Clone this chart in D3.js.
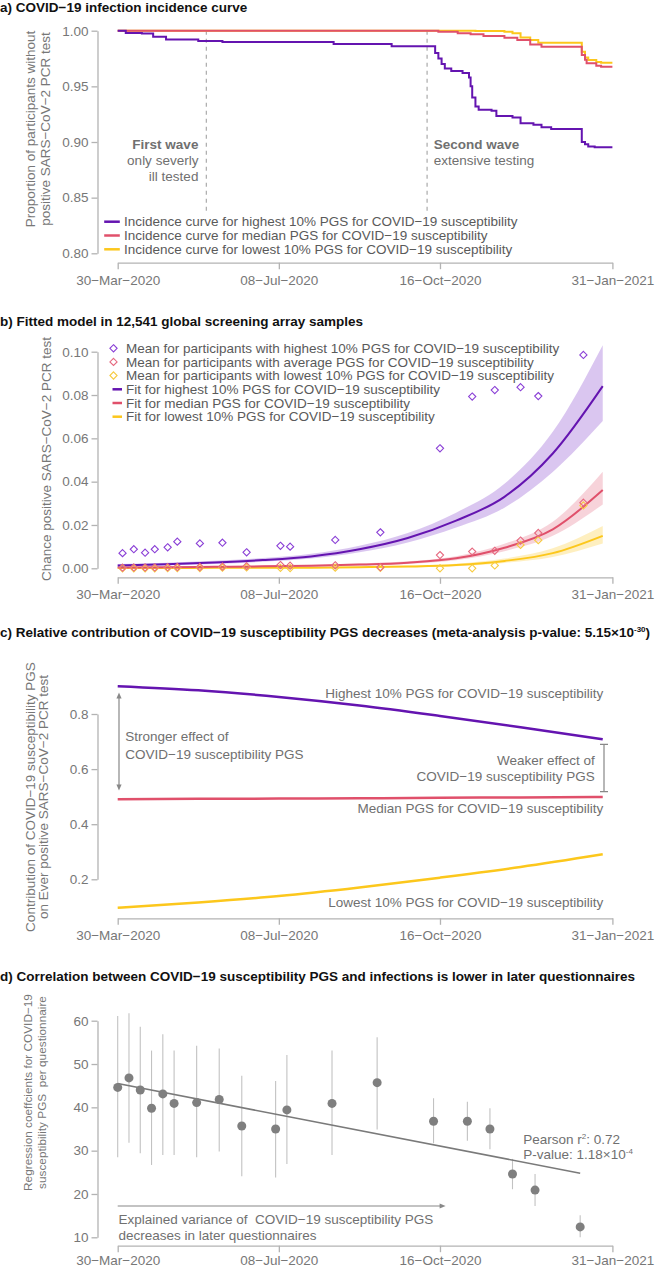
<!DOCTYPE html>
<html><head><meta charset="utf-8">
<script src="https://cdn.jsdelivr.net/npm/d3@7"></script>
<style>body{margin:0;background:#fff} svg{display:block}</style>
</head><body><svg id="c" width="659" height="1269"></svg>
<script>
// ---------- shared x axis ----------
const startDate = "2020-03-30";
const endDate = "2021-01-31";
const xTickDates = ["2020-03-30","2020-07-08","2020-10-16","2021-01-31"];
const xTickLabels = ["30−Mar−2020","08−Jul−2020","16−Oct−2020","31−Jan−2021"];

// ---------- panel a: incidence curves (days since 30-Mar-2020) ----------
const aHighDays = [0,5,15,22,30,50,65,134,170,197,199,201,203,207,214,218,219,220,222,224,232,235,245,250,258,263,269,288,290,292,296,307];
const aHighVals = [1.000,0.998,0.9975,0.9946,0.9922,0.9907,0.9899,0.988,0.986,0.980,0.975,0.970,0.966,0.9638,0.962,0.958,0.950,0.940,0.9318,0.929,0.928,0.9234,0.922,0.9168,0.9155,0.9132,0.9117,0.900,0.898,0.896,0.8953,0.8953];
const aMedDays = [0,199,211,219,227,240,248,256,263,288,290,291,297,300,307];
const aMedVals = [1.000,0.9991,0.9976,0.9967,0.9952,0.9937,0.9916,0.9877,0.9856,0.9782,0.9740,0.9707,0.9686,0.9677,0.9677];
const aLowDays = [0,222,240,245,250,256,261,288,290,292,297,300,307];
const aLowVals = [1.000,0.9997,0.9991,0.9976,0.994,0.9916,0.9892,0.9811,0.976,0.9737,0.9719,0.9713,0.9713];
const aWaveDays = [55,192];
const aYTicks = [0.80,0.85,0.90,0.95,1.00];
const aYLabels = ["0.80","0.85","0.90","0.95","1.00"];
const aLegend = ["Incidence curve for highest 10% PGS for COVID−19 susceptibility",
                 "Incidence curve for median PGS for COVID−19 susceptibility",
                 "Incidence curve for lowest 10% PGS for COVID−19 susceptibility"];

// ---------- panel b: means and fits ----------
const bDays = [3,10,17,23,31,37,51,65,80,101,107,135,163,200,220,234,250,261,289];
const bHigh = [0.0070,0.0088,0.0072,0.0088,0.0097,0.0123,0.0115,0.0118,0.0074,0.0104,0.0100,0.0131,0.0166,0.0554,0.0793,0.0823,0.0836,0.0795,0.0985];
const bMed  = [0.0003,0.0004,0.0004,0.0004,0.0005,0.0006,0.0006,0.0008,0.0010,0.0015,0.0012,0.0014,0.0005,0.0061,0.0077,0.0081,0.0128,0.0163,0.0303];
const bLow  = [0.0000,0.0000,0.0000,0.0000,0.0001,0.0001,0.0001,0.0003,0.0004,0.0002,0.0001,0.0003,0.0002,0.0000,0.0000,0.0013,0.0108,0.0130,0.0290];
const fitDays = [0,30,60,90,120,150,180,210,240,270,301];
const fitHigh   = [0.0013,0.0019,0.0027,0.0038,0.0055,0.0088,0.0140,0.0220,0.0330,0.0530,0.0841];
const fitHighLo = [0.0008,0.0013,0.0020,0.0030,0.0045,0.0074,0.0119,0.0188,0.0280,0.0445,0.0680];
const fitHighHi = [0.0020,0.0026,0.0035,0.0047,0.0067,0.0104,0.0163,0.0257,0.0390,0.0630,0.1030];
const fitMed    = [0.0004,0.0005,0.0007,0.0009,0.0012,0.0017,0.0026,0.0046,0.0095,0.0180,0.0361];
const fitMedLo  = [0.0002,0.0003,0.0004,0.0006,0.0008,0.0012,0.0020,0.0037,0.0079,0.0150,0.0295];
const fitMedHi  = [0.0007,0.0008,0.0010,0.0012,0.0016,0.0022,0.0032,0.0056,0.0113,0.0215,0.0446];
const fitLow    = [0.0001,0.0001,0.0002,0.0002,0.0003,0.0005,0.0008,0.0015,0.0034,0.0070,0.0150];
const fitLowLo  = [0.00005,0.00006,0.0001,0.0001,0.0002,0.0003,0.0005,0.0010,0.0025,0.0052,0.0115];
const fitLowHi  = [0.0002,0.0002,0.0003,0.0004,0.0005,0.0008,0.0012,0.0021,0.0045,0.0092,0.0195];
const bYTicks = [0,0.02,0.04,0.06,0.08,0.10];
const bYLabels = ["0.00","0.02","0.04","0.06","0.08","0.10"];
const bLegend = ["Mean for participants with highest 10% PGS for COVID−19 susceptibility",
                 "Mean for participants with average PGS for COVID−19 susceptibility",
                 "Mean for participants with lowest 10% PGS for COVID−19 susceptibility",
                 "Fit for highest 10% PGS for COVID−19 susceptibility",
                 "Fit for median PGS for COVID−19 susceptibility",
                 "Fit for lowest 10% PGS for COVID−19 susceptibility"];

// ---------- panel c: relative contribution ----------
const cDays = [0,50,100,150,200,250,301];
const cHigh = [0.901,0.886,0.862,0.831,0.793,0.752,0.708];
const cMed  = [0.491,0.492,0.493,0.494,0.496,0.497,0.499];
const cLow  = [0.097,0.116,0.139,0.170,0.206,0.245,0.291];
const cYTicks = [0.2,0.4,0.6,0.8];
const cYLabels = ["0.2","0.4","0.6","0.8"];

// ---------- panel d: regression coefficients per questionnaire ----------
const dDays = [0,7,14,21,28,35,49,63,77,98,105,133,161,196,217,231,245,259,287];
const dCoef = [44.6,46.8,44.0,39.8,43.1,40.9,41.1,41.8,35.7,35.0,39.4,40.9,45.7,36.8,36.8,35.0,24.6,20.9,12.4];
const dLo   = [28.5,31.8,29.4,26.7,29.0,29.0,28.5,29.8,24.1,23.8,26.9,29.0,34.9,31.7,32.3,30.3,21.1,17.2,10.0];
const dHi   = [61.1,61.7,58.6,53.1,56.9,53.1,54.2,53.6,47.3,46.1,52.1,53.1,56.2,42.1,41.3,39.8,28.1,24.6,15.1];
const regDays = [0,287];
const regVals = [45.5,24.8];
const dYTicks = [10,20,30,40,50,60];
const dYLabels = ["10","20","30","40","50","60"];

// ---------- drawing ----------
const FONT = '"Liberation Sans", Arial, Helvetica, sans-serif';
const colHigh = "#6414b0", colMed = "#e0506b", colLow = "#fcc71c";
const ptHigh = "#8a3fd6", ptMed = "#e66a80", ptLow = "#f7cb40";
const axisCol = "#b3b3b3", tickTextCol = "#777", annCol = "#707070";
const svg = d3.select("#c");
const parse = d3.utcParse("%Y-%m-%d");
const t0 = parse(startDate), t1 = parse(endDate);
const day = d => d3.utcDay.offset(t0, d);
const x = d3.scaleUtc().domain([t0, t1]).range([117.7, 612.4]);

function styleAxis(g){
  g.select(".domain").attr("stroke", axisCol).attr("stroke-width", 1.3);
  g.selectAll(".tick line").attr("stroke", axisCol).attr("stroke-width", 1.3);
  g.selectAll(".tick text").attr("fill", tickTextCol).style("font-size", "13.5px").style("font-family", FONT);
}
function xAxis(yPos, pad){
  const g = svg.append("g").attr("transform", `translate(0,${yPos})`)
    .call(d3.axisBottom(x).tickValues(xTickDates.map(parse)).tickFormat((d,i)=>xTickLabels[i])
      .tickSize(6.5).tickPadding(pad === undefined ? 6 : pad).tickSizeOuter(0));
  styleAxis(g);
}
function yAxis(scale, ticks, labels){
  const g = svg.append("g").attr("transform", "translate(97.5,0)")
    .call(d3.axisLeft(scale).tickValues(ticks).tickFormat((d,i)=>labels[i])
      .tickSize(6).tickPadding(3).tickSizeOuter(0));
  styleAxis(g);
}
function txt(xp, yp, s, opt={}){
  return svg.append("text").attr("x", xp).attr("y", yp).attr("dy", "0.35em")
    .attr("text-anchor", opt.anchor || "start")
    .attr("fill", opt.fill || annCol)
    .style("font-family", FONT).style("font-size", (opt.size || 13.5) + "px")
    .style("font-weight", opt.bold ? "bold" : "normal").text(s);
}
function title(yp, s){
  return svg.append("text").attr("x", 0).attr("y", yp).attr("fill", "#111")
    .style("font-family", FONT).style("font-size", "13.5px").style("font-weight", "bold").text(s);
}
function yLabel(cx, cy, s, size){
  svg.append("text").attr("transform", `translate(${cx},${cy}) rotate(-90)`)
    .attr("text-anchor", "middle").attr("dy", "0.35em").attr("fill", tickTextCol)
    .style("font-family", FONT).style("font-size", (size||13.5) + "px").style("white-space", "pre").text(s);
}
const diamond = r => `M0,${-r}L${r},0L0,${r}L${-r},0Z`;

// ===== Panel a =====
title(12, "a) COVID−19 infection incidence curve");
const yA = d3.scaleLinear().domain([0.8, 1.0]).range([253.3, 30.7]);
yAxis(yA, aYTicks, aYLabels);
xAxis(262.7);
yLabel(30, 129, "Proportion of participants without");
yLabel(45, 129, "positive SARS−CoV−2 PCR test");
aWaveDays.forEach(d => {
  svg.append("line").attr("x1", x(day(d))).attr("x2", x(day(d)))
    .attr("y1", yA(1.0)).attr("y2", yA(0.8355))
    .attr("stroke", "#aaa").attr("stroke-width", 1.2).attr("stroke-dasharray", "4,4");
});
const stepLine = (ys) => d3.line().curve(d3.curveStepAfter).x(d => x(day(d[0]))).y(d => ys(d[1]));
[[aLowDays, aLowVals, colLow], [aMedDays, aMedVals, colMed], [aHighDays, aHighVals, colHigh]].forEach(([ds, vs, c]) => {
  svg.append("path").datum(ds.map((d,i)=>[d, vs[i]])).attr("d", stepLine(yA))
    .attr("fill", "none").attr("stroke", c).attr("stroke-width", 2);
});
txt(198.4, 144, "First wave", {anchor:"end", bold:true});
txt(198.4, 160, "only severly", {anchor:"end"});
txt(198.4, 176.5, "ill tested", {anchor:"end"});
txt(433.8, 144, "Second wave", {bold:true});
txt(433.8, 160, "extensive testing");
[colHigh, colMed, colLow].forEach((c, i) => {
  const yy = 221.7 + i*13.8;
  svg.append("line").attr("x1", 104.2).attr("x2", 119.8).attr("y1", yy).attr("y2", yy).attr("stroke", c).attr("stroke-width", 2.5);
  txt(124, yy, aLegend[i], {fill:"#5a5a5a"});
});

// ===== Panel b =====
title(326, "b) Fitted model in 12,541 global screening array samples");
const yB = d3.scaleLinear().domain([0, 0.10]).range([568.3, 351.7]);
yAxis(yB, bYTicks, bYLabels);
xAxis(577.3);
yLabel(46, 459, "Chance positive SARS−CoV−2 PCR test");
const bandDefs = [[fitLowLo, fitLowHi, colLow, 0.28], [fitMedLo, fitMedHi, colMed, 0.25], [fitHighLo, fitHighHi, "#8c4fd0", 0.32]];
bandDefs.forEach(([lo, hi, c, op]) => {
  const area = d3.area().curve(d3.curveMonotoneX).x((d,i)=>x(day(fitDays[i]))).y0((d,i)=>yB(lo[i])).y1((d,i)=>yB(hi[i]));
  svg.append("path").datum(fitDays).attr("d", area).attr("fill", c).attr("fill-opacity", op);
});
[[fitLow, colLow], [fitMed, colMed], [fitHigh, colHigh]].forEach(([vs, c]) => {
  const line = d3.line().curve(d3.curveMonotoneX).x((d,i)=>x(day(fitDays[i]))).y((d,i)=>yB(vs[i]));
  svg.append("path").datum(vs).attr("d", line).attr("fill", "none").attr("stroke", c).attr("stroke-width", 2);
});
[[bLow, ptLow], [bMed, ptMed], [bHigh, ptHigh]].forEach(([vs, c]) => {
  svg.append("g").selectAll("path").data(vs).join("path")
    .attr("transform", (v,i)=>`translate(${x(day(bDays[i]))},${yB(v)})`)
    .attr("d", diamond(3.6)).attr("fill", "none").attr("stroke", c).attr("stroke-width", 1.1);
});
const bRows = [348.3, 361.9, 375.5, 389.3, 403, 416.7];
[ptHigh, ptMed, ptLow].forEach((c, i) => {
  svg.append("path").attr("transform", `translate(113.5,${bRows[i]})`).attr("d", diamond(3.6))
    .attr("fill", "none").attr("stroke", c).attr("stroke-width", 1.1);
});
[colHigh, colMed, colLow].forEach((c, i) => {
  const yy = bRows[i+3];
  svg.append("line").attr("x1", 112.5).attr("x2", 122).attr("y1", yy).attr("y2", yy).attr("stroke", c).attr("stroke-width", 2.5);
});
bLegend.forEach((s, i) => txt(126, bRows[i], s, {fill:"#5a5a5a"}));

// ===== Panel c =====
const tc = title(637, "c) Relative contribution of COVID−19 susceptibility PGS decreases (meta-analysis p-value: 5.15×10");
tc.append("tspan").attr("dy", -5).style("font-size", "8px").text("-30");
tc.append("tspan").attr("dy", 5).text(")");
const yC = d3.scaleLinear().domain([0.2, 0.8]).range([879.3, 714]);
yAxis(yC, cYTicks, cYLabels);
xAxis(918.3);
yLabel(30, 797, "Contribution of COVID−19 susceptibility PGS");
yLabel(43, 797, "on Ever positive SARS−CoV−2 PCR test");
[[cLow, colLow], [cMed, colMed], [cHigh, colHigh]].forEach(([vs, c]) => {
  const line = d3.line().curve(d3.curveMonotoneX).x((d,i)=>x(day(cDays[i]))).y((d,i)=>yC(vs[i]));
  svg.append("path").datum(vs).attr("d", line).attr("fill", "none").attr("stroke", c).attr("stroke-width", 2.5);
});
txt(603.2, 693.3, "Highest 10% PGS for COVID−19 susceptibility", {anchor:"end"});
txt(603.2, 808.3, "Median PGS for COVID−19 susceptibility", {anchor:"end"});
txt(603.2, 902.7, "Lowest 10% PGS for COVID−19 susceptibility", {anchor:"end"});
txt(125.3, 736.7, "Stronger effect of");
txt(125.3, 754, "COVID−19 susceptibility PGS");
txt(594.8, 760, "Weaker effect of", {anchor:"end"});
txt(594.8, 776.5, "COVID−19 susceptibility PGS", {anchor:"end"});
// double arrow
const arrX = 119, arrTop = 692.5, arrBot = 790.5;
svg.append("line").attr("x1", arrX).attr("x2", arrX).attr("y1", arrTop + 4).attr("y2", arrBot - 4).attr("stroke", "#888").attr("stroke-width", 1.2);
svg.append("path").attr("d", `M${arrX},${arrTop}L${arrX-2.6},${arrTop+6}L${arrX+2.6},${arrTop+6}Z`).attr("fill", "#888");
svg.append("path").attr("d", `M${arrX},${arrBot}L${arrX-2.6},${arrBot-6}L${arrX+2.6},${arrBot-6}Z`).attr("fill", "#888");
// bracket
const brX = 604, brTop = 744.3, brBot = 791.7;
svg.append("path").attr("d", `M${brX-4},${brTop}H${brX+4}M${brX},${brTop}V${brBot}M${brX-4},${brBot}H${brX+4}`)
  .attr("fill", "none").attr("stroke", "#888").attr("stroke-width", 1.2);

// ===== Panel d =====
title(981, "d) Correlation between COVID−19 susceptibility PGS and infections is lower in later questionnaires");
const yD = d3.scaleLinear().domain([10, 60]).range([1237.3, 1020.7]);
yAxis(yD, dYTicks, dYLabels);
xAxis(1245.7, 3.5);
yLabel(28, 1092.5, "Regression coeffcients for COVID−19", 11.8);
yLabel(42, 1092.5, "susceptibility PGS  per questionnaire", 11.8);
svg.append("g").selectAll("line").data(dDays).join("line")
  .attr("x1", d=>x(day(d))).attr("x2", d=>x(day(d)))
  .attr("y1", (d,i)=>yD(dLo[i])).attr("y2", (d,i)=>yD(dHi[i]))
  .attr("stroke", "#c2c2c2").attr("stroke-width", 1.1);
svg.append("line").attr("x1", x(day(regDays[0]))).attr("x2", x(day(regDays[1])))
  .attr("y1", yD(regVals[0])).attr("y2", yD(regVals[1])).attr("stroke", "#7a7a7a").attr("stroke-width", 1.6);
svg.append("g").selectAll("circle").data(dCoef).join("circle")
  .attr("cx", (v,i)=>x(day(dDays[i]))).attr("cy", v=>yD(v)).attr("r", 4.5).attr("fill", "#7f7f7f");
const pr = txt(523.3, 1139, "Pearson r");
pr.append("tspan").attr("dy", "-5").style("font-size", "8px").text("2");
pr.append("tspan").attr("dy", "5").text(": 0.72");
const pv = txt(523.3, 1154.5, "P-value: 1.18×10");
pv.append("tspan").attr("dy", "-5").style("font-size", "8px").text("-4");
// horizontal arrow
const hy = 1206, hx0 = 117.7, hx1 = 445.6;
svg.append("line").attr("x1", hx0).attr("x2", hx1 - 4).attr("y1", hy).attr("y2", hy).attr("stroke", "#888").attr("stroke-width", 1.2);
svg.append("path").attr("d", `M${hx1},${hy}L${hx1-6},${hy-2.6}L${hx1-6},${hy+2.6}Z`).attr("fill", "#888");
txt(118.5, 1219.5, "Explained variance of  COVID−19 susceptibility PGS").style("white-space", "pre");
txt(118.5, 1235.5, "decreases in later questionnaires");
</script></body></html>
